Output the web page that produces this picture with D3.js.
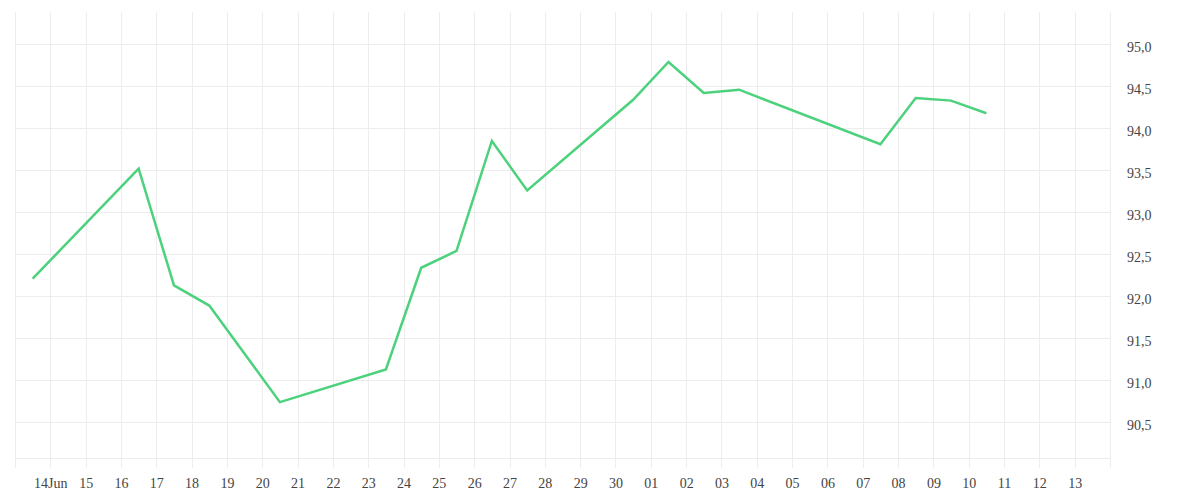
<!DOCTYPE html>
<html>
<head>
<meta charset="utf-8">
<script src="https://cdn.jsdelivr.net/npm/d3@7"></script>
<style>
  html, body { margin: 0; padding: 0; background: #fff; }
  svg { display: block; }
  .tick text { font-family: "Liberation Serif", serif; font-size: 14px; fill: #444; }
</style>
</head>
<body>
<svg id="chart" width="1200" height="500"></svg>
<script>
// ---- data ----
const dates = ["2019-06-13","2019-06-16","2019-06-17","2019-06-18","2019-06-20","2019-06-23",
               "2019-06-24","2019-06-25","2019-06-26","2019-06-27","2019-06-30","2019-07-01",
               "2019-07-02","2019-07-03","2019-07-07","2019-07-08","2019-07-09","2019-07-10"];
const values = [92.21, 93.52, 92.13, 91.89, 90.74, 91.13,
                92.34, 92.54, 93.85, 93.26, 94.34, 94.79,
                94.42, 94.46, 93.81, 94.36, 94.33, 94.18];
const yTickValues = [90.5, 91.0, 91.5, 92.0, 92.5, 93.0, 93.5, 94.0, 94.5, 95.0];
const xStart = "2019-06-13", xEnd = "2019-07-14";
const yMin = 90.075, yMax = 95.385;

// ---- layout ----
const svg = d3.select("#chart");
const plotL = 15, plotR = 1110, plotT = 12, plotB = 458;
const parse = d3.utcParse("%Y-%m-%d");
const x = d3.scaleUtc().domain([parse(xStart), parse(xEnd)]).range([plotL, plotR]);
const y = d3.scaleLinear().domain([yMin, yMax]).range([plotB, plotT]);
const locale = d3.formatLocale({decimal: ",", thousands: ".", grouping: [3], currency: ["", "€"]});
const fmt = locale.format(".1f");
const gridColor = "#ededed";

// horizontal grid
svg.append("g").selectAll("line").data(yTickValues).join("line")
  .attr("x1", plotL).attr("x2", plotR)
  .attr("y1", d => Math.round(y(d)) + 0.5).attr("y2", d => Math.round(y(d)) + 0.5)
  .attr("stroke", gridColor).attr("stroke-width", 1);
// bottom border
svg.append("line").attr("x1", plotL).attr("x2", plotR)
  .attr("y1", plotB + 0.5).attr("y2", plotB + 0.5)
  .attr("stroke", gridColor);

// vertical grid (days, extending below plot as ticks)
const dayLines = d3.utcDay.range(parse(xStart), d3.utcDay.offset(parse(xEnd), 1));
svg.append("g").selectAll("line").data(dayLines).join("line")
  .attr("x1", d => Math.round(x(d)) + 0.5).attr("x2", d => Math.round(x(d)) + 0.5)
  .attr("y1", plotT).attr("y2", plotB + 10)
  .attr("stroke", gridColor).attr("stroke-width", 1);

// x axis labels
const labelDays = d3.utcDay.range(d3.utcDay.offset(parse(xStart), 1), parse(xEnd));
const xAxis = d3.axisBottom(x).tickValues(labelDays).tickSize(0).tickPadding(0)
  .tickFormat((d, i) => i === 0 ? d3.utcFormat("%d")(d) + d3.utcFormat("%b")(d) : d3.utcFormat("%d")(d));
const gx = svg.append("g").attr("transform", `translate(0,${plotB})`).call(xAxis);
gx.select(".domain").remove();
gx.selectAll("text").attr("dy", null).attr("y", 30);

// y axis labels
const yAxis = d3.axisRight(y).tickValues(yTickValues).tickSize(0).tickPadding(0).tickFormat(fmt);
const gy = svg.append("g").attr("transform", `translate(1127,0)`).call(yAxis);
gy.select(".domain").remove();
gy.selectAll("text").attr("dy", "0.5em").attr("x", 0);

// line
const data = dates.map((d, i) => ({date: d3.utcHour.offset(parse(d), 12), value: values[i]}));
const line = d3.line().x(d => x(d.date)).y(d => y(d.value));
svg.append("path").datum(data)
  .attr("d", line)
  .attr("fill", "none")
  .attr("stroke", "#4cd17c")
  .attr("stroke-width", 2.5)
  .attr("stroke-linejoin", "miter");
</script>
</body>
</html>
